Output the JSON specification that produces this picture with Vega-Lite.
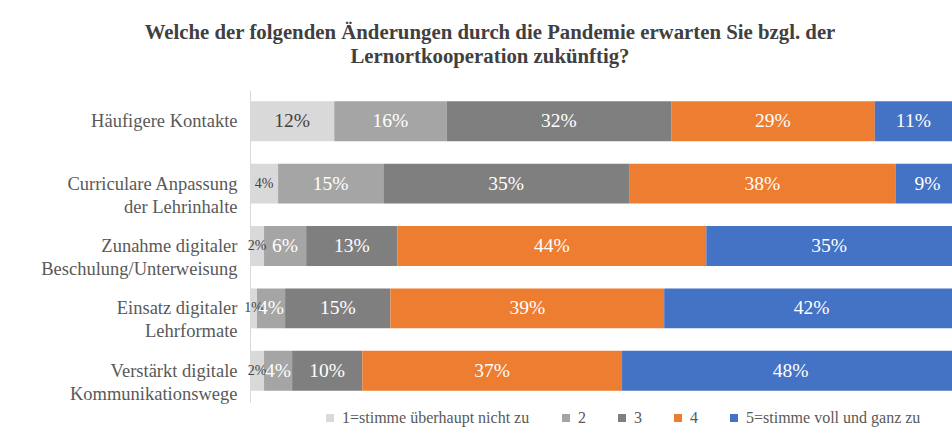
{
  "$schema": "https://vega.github.io/schema/vega-lite/v6.json",
  "width": 702,
  "height": 312,
  "autosize": {"type": "none"},
  "padding": {"left": 250, "top": 90, "right": 0, "bottom": 36},
  "background": "white",
  "title": {
    "text": ["Welche der folgenden Änderungen durch die Pandemie erwarten Sie bzgl.  der", "Lernortkooperation zukünftig?"],
    "font": "Liberation Serif",
    "fontSize": 20.8,
    "fontWeight": "bold",
    "color": "#404040",
    "lineHeight": 24,
    "anchor": "middle",
    "dx": -111,
    "offset": 22
  },
  "data": {
    "values": [
      {"item": "Häufigere Kontakte", "cat": "1=stimme überhaupt nicht zu", "k": 1, "v": 0.12},
      {"item": "Häufigere Kontakte", "cat": "2", "k": 2, "v": 0.16},
      {"item": "Häufigere Kontakte", "cat": "3", "k": 3, "v": 0.32},
      {"item": "Häufigere Kontakte", "cat": "4", "k": 4, "v": 0.29},
      {"item": "Häufigere Kontakte", "cat": "5=stimme voll und ganz zu", "k": 5, "v": 0.11},
      {"item": "Curriculare Anpassung|der Lehrinhalte", "cat": "1=stimme überhaupt nicht zu", "k": 1, "v": 0.04},
      {"item": "Curriculare Anpassung|der Lehrinhalte", "cat": "2", "k": 2, "v": 0.15},
      {"item": "Curriculare Anpassung|der Lehrinhalte", "cat": "3", "k": 3, "v": 0.35},
      {"item": "Curriculare Anpassung|der Lehrinhalte", "cat": "4", "k": 4, "v": 0.38},
      {"item": "Curriculare Anpassung|der Lehrinhalte", "cat": "5=stimme voll und ganz zu", "k": 5, "v": 0.09},
      {"item": "Zunahme digitaler|Beschulung/Unterweisung", "cat": "1=stimme überhaupt nicht zu", "k": 1, "v": 0.02},
      {"item": "Zunahme digitaler|Beschulung/Unterweisung", "cat": "2", "k": 2, "v": 0.06},
      {"item": "Zunahme digitaler|Beschulung/Unterweisung", "cat": "3", "k": 3, "v": 0.13},
      {"item": "Zunahme digitaler|Beschulung/Unterweisung", "cat": "4", "k": 4, "v": 0.44},
      {"item": "Zunahme digitaler|Beschulung/Unterweisung", "cat": "5=stimme voll und ganz zu", "k": 5, "v": 0.35},
      {"item": "Einsatz digitaler|Lehrformate", "cat": "1=stimme überhaupt nicht zu", "k": 1, "v": 0.01},
      {"item": "Einsatz digitaler|Lehrformate", "cat": "2", "k": 2, "v": 0.04},
      {"item": "Einsatz digitaler|Lehrformate", "cat": "3", "k": 3, "v": 0.15},
      {"item": "Einsatz digitaler|Lehrformate", "cat": "4", "k": 4, "v": 0.39},
      {"item": "Einsatz digitaler|Lehrformate", "cat": "5=stimme voll und ganz zu", "k": 5, "v": 0.42},
      {"item": "Verstärkt digitale|Kommunikationswege", "cat": "1=stimme überhaupt nicht zu", "k": 1, "v": 0.02},
      {"item": "Verstärkt digitale|Kommunikationswege", "cat": "2", "k": 2, "v": 0.04},
      {"item": "Verstärkt digitale|Kommunikationswege", "cat": "3", "k": 3, "v": 0.10},
      {"item": "Verstärkt digitale|Kommunikationswege", "cat": "4", "k": 4, "v": 0.37},
      {"item": "Verstärkt digitale|Kommunikationswege", "cat": "5=stimme voll und ganz zu", "k": 5, "v": 0.48}
    ]
  },
  "transform": [
    {"stack": "v", "groupby": ["item"], "sort": [{"field": "k", "order": "ascending"}], "as": ["v0", "v1"]}
  ],
  "encoding": {
    "y": {
      "field": "item",
      "type": "nominal",
      "sort": ["Häufigere Kontakte", "Curriculare Anpassung|der Lehrinhalte", "Zunahme digitaler|Beschulung/Unterweisung", "Einsatz digitaler|Lehrformate", "Verstärkt digitale|Kommunikationswege"],
      "scale": {"paddingInner": 0.36, "paddingOuter": 0.18},
      "axis": {
        "title": null,
        "labelExpr": "split(datum.label, '|')",
        "labelFont": "Liberation Serif",
        "labelFontSize": 18.5,
        "labelColor": "#595959",
        "labelLineHeight": 23,
        "labelPadding": 13,
        "ticks": false,
        "domain": true,
        "domainColor": "#d9d9d9",
        "labelLimit": 300
      }
    }
  },
  "layer": [
    {
      "mark": {"type": "bar", "clip": true},
      "encoding": {
        "x": {
          "field": "v0",
          "type": "quantitative",
          "scale": {"domain": [0, 0.99]},
          "axis": null
        },
        "x2": {"field": "v1"},
        "color": {
          "field": "cat",
          "type": "nominal",
          "scale": {
            "domain": ["1=stimme überhaupt nicht zu", "2", "3", "4", "5=stimme voll und ganz zu"],
            "range": ["#d9d9d9", "#a5a5a5", "#7f7f7f", "#ed7d31", "#4472c4"]
          },
          "legend": {
            "title": null,
            "orient": "none",
            "direction": "horizontal",
            "legendX": 72,
            "legendY": 320,
            "symbolType": "square",
            "symbolSize": 64,
            "symbolStrokeWidth": 0,
            "labelFont": "Liberation Serif",
            "labelFontSize": 16,
            "labelColor": "#595959",
            "labelOffset": 4,
            "columnPadding": 28,
            "labelLimit": 300
          }
        }
      }
    },
    {
      "transform": [
        {"fold": ["v0", "v1"], "as": ["edge", "pos"]},
        {"aggregate": [{"op": "mean", "field": "pos", "as": "mid"}], "groupby": ["item", "k", "v"]}
      ],
      "mark": {"type": "text", "font": "Liberation Serif"},
      "encoding": {
        "x": {"field": "mid", "type": "quantitative"},
        "text": {"field": "v", "type": "quantitative", "format": ".0%"},
        "size": {"condition": {"test": "datum.k == 1 && datum.v < 0.05", "value": 14}, "value": 19.5},
        "color": {"condition": {"test": "datum.k == 1", "value": "#404040"}, "value": "white"}
      }
    }
  ],
  "config": {
    "view": {"stroke": null}
  }
}
